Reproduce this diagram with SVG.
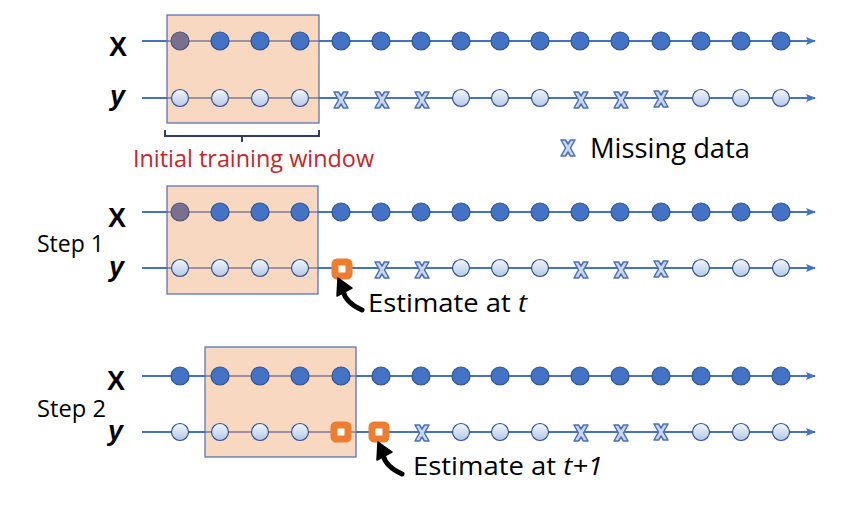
<svg xmlns="http://www.w3.org/2000/svg" width="848" height="516" viewBox="0 0 848 516">
<defs>
<linearGradient id="lg" x1="0" y1="0" x2="0" y2="1">
<stop offset="0" stop-color="#F4F7FC"/><stop offset="1" stop-color="#B4C7E7"/>
</linearGradient>
<marker id="ah" markerWidth="10" markerHeight="8" refX="9" refY="4" orient="auto" markerUnits="userSpaceOnUse">
<path d="M0,0 L10,4 L0,8 L2,4 Z" fill="#4472C4"/>
</marker>
<path id="mx" d="M-7,-8 L-2.4,-8 L0,-4 L2.4,-8 L7,-8 L2.5,0 L7,8 L2.4,8 L0,4 L-2.4,8 L-7,8 L-2.5,0 Z" fill="#C9D6EE" stroke="#4A6FB5" stroke-width="1.5" stroke-linejoin="round"/>
<g id="arr">
<path d="M0,0 Q3,12 19,19" fill="none" stroke="#000" stroke-width="5" stroke-linecap="round"/>
<path d="M-5,-13 L-6,5 L9,-3 Z" fill="#000" stroke="#000" stroke-width="1.5" stroke-linejoin="round"/>
</g>
</defs>
<style>
.ln{stroke:#4472C4;stroke-width:2;fill:none}
.xd{fill:#4472C4;stroke:#2F528F;stroke-width:1.2}
.xg{fill:#78708E;stroke:#4F5577;stroke-width:1.2}
.yd{fill:url(#lg);stroke:#2F528F;stroke-width:1.2}
.win{fill:#F4B183;fill-opacity:0.5;stroke:#4A6FB5;stroke-width:1.2}
.est{fill:#fff;stroke:#ED7D31;stroke-width:7;stroke-linejoin:round}
.lb{font-family:"Liberation Sans",Arial,sans-serif;font-weight:bold;font-size:27px;fill:#000}
.tx{font-family:"Open Sans","Liberation Sans",sans-serif;fill:#000}
</style>

<g id="connectors">
<line class="ln" x1="142" y1="41" x2="815" y2="41" marker-end="url(#ah)"/>
<line class="ln" x1="142" y1="98" x2="815" y2="98" marker-end="url(#ah)"/>
<line class="ln" x1="142" y1="212" x2="815" y2="212" marker-end="url(#ah)"/>
<line class="ln" x1="142" y1="268" x2="815" y2="268" marker-end="url(#ah)"/>
<line class="ln" x1="142" y1="376" x2="815" y2="376" marker-end="url(#ah)"/>
<line class="ln" x1="142" y1="432" x2="815" y2="432" marker-end="url(#ah)"/>
</g>

<g id="panel0">
<rect class="win" x="167" y="15" width="152" height="108"/>
<circle class="xg" cx="180" cy="41" r="9"/>
<text class="lb" x="109" y="56">X</text>
<text class="lb" x="110" y="105" font-style="italic">y</text>
<g id="p0x">
<circle class="xd" cx="220" cy="41" r="9"/><circle class="xd" cx="260" cy="41" r="9"/><circle class="xd" cx="300" cy="41" r="9"/>
<circle class="xd" cx="341" cy="41" r="9"/><circle class="xd" cx="381" cy="41" r="9"/><circle class="xd" cx="421" cy="41" r="9"/>
<circle class="xd" cx="461" cy="41" r="9"/><circle class="xd" cx="500" cy="41" r="9"/><circle class="xd" cx="540" cy="41" r="9"/>
<circle class="xd" cx="580" cy="41" r="9"/><circle class="xd" cx="620" cy="41" r="9"/><circle class="xd" cx="661" cy="41" r="9"/>
<circle class="xd" cx="701" cy="41" r="9"/><circle class="xd" cx="741" cy="41" r="9"/><circle class="xd" cx="781" cy="41" r="9"/>
</g>
<g id="p0y">
<circle class="yd" cx="180" cy="98" r="8.5"/><circle class="yd" cx="220" cy="98" r="8.5"/><circle class="yd" cx="260" cy="98" r="8.5"/><circle class="yd" cx="300" cy="98" r="8.5"/>
<use href="#mx" x="341" y="100"/><use href="#mx" x="382" y="100"/><use href="#mx" x="422" y="100"/>
<circle class="yd" cx="461" cy="98" r="8.5"/><circle class="yd" cx="500" cy="98" r="8.5"/><circle class="yd" cx="540" cy="98" r="8.5"/>
<use href="#mx" x="581" y="100"/><use href="#mx" x="621" y="100"/><use href="#mx" x="661" y="99"/>
<circle class="yd" cx="701" cy="98" r="8.5"/><circle class="yd" cx="741" cy="98" r="8.5"/><circle class="yd" cx="781" cy="98" r="8.5"/>
</g>
<path d="M165,130 L165,136 L319,136 L319,130 M242,136 L242,142" fill="none" stroke="#2F3F66" stroke-width="2"/>
<text class="tx" x="133" y="167" font-size="23" style="fill:#C0282C" textLength="241" lengthAdjust="spacingAndGlyphs">Initial training window</text>
</g>

<g id="legend">
<use href="#mx" x="568" y="148"/>
<text class="tx" x="590" y="158" font-size="27" textLength="160" lengthAdjust="spacingAndGlyphs">Missing data</text>
</g>

<g id="step1">
<rect class="win" x="167" y="186" width="151" height="108"/>
<circle class="xg" cx="180" cy="212" r="9"/>
<text class="lb" x="108" y="227">X</text>
<text class="lb" x="109" y="276" font-style="italic">y</text>
<text class="tx" x="37" y="252" font-size="23" textLength="67" lengthAdjust="spacingAndGlyphs">Step 1</text>
<circle class="xd" cx="220" cy="212" r="9"/><circle class="xd" cx="260" cy="212" r="9"/><circle class="xd" cx="300" cy="212" r="9"/>
<circle class="xd" cx="341" cy="212" r="9"/><circle class="xd" cx="381" cy="212" r="9"/><circle class="xd" cx="421" cy="212" r="9"/>
<circle class="xd" cx="461" cy="212" r="9"/><circle class="xd" cx="500" cy="212" r="9"/><circle class="xd" cx="540" cy="212" r="9"/>
<circle class="xd" cx="580" cy="212" r="9"/><circle class="xd" cx="620" cy="212" r="9"/><circle class="xd" cx="661" cy="212" r="9"/>
<circle class="xd" cx="701" cy="212" r="9"/><circle class="xd" cx="741" cy="212" r="9"/><circle class="xd" cx="781" cy="212" r="9"/>
<circle class="yd" cx="180" cy="268" r="8.5"/><circle class="yd" cx="220" cy="268" r="8.5"/><circle class="yd" cx="260" cy="268" r="8.5"/><circle class="yd" cx="300" cy="268" r="8.5"/>
<rect class="est" x="335" y="262" width="14" height="14" rx="2"/>
<use href="#mx" x="382" y="270"/><use href="#mx" x="422" y="270"/>
<circle class="yd" cx="461" cy="268" r="8.5"/><circle class="yd" cx="500" cy="268" r="8.5"/><circle class="yd" cx="540" cy="268" r="8.5"/>
<use href="#mx" x="581" y="270"/><use href="#mx" x="621" y="270"/><use href="#mx" x="661" y="269"/>
<circle class="yd" cx="701" cy="268" r="8.5"/><circle class="yd" cx="741" cy="268" r="8.5"/><circle class="yd" cx="781" cy="268" r="8.5"/>
<use href="#arr" x="343" y="291"/>
<text class="tx" x="368" y="312" font-size="26" textLength="159" lengthAdjust="spacingAndGlyphs">Estimate at <tspan font-style="italic">t</tspan></text>
</g>

<g id="step2">
<rect class="win" x="205" y="347" width="151" height="110"/>
<text class="lb" x="107" y="390">X</text>
<text class="lb" x="108" y="440" font-style="italic">y</text>
<text class="tx" x="37" y="417" font-size="23" textLength="69" lengthAdjust="spacingAndGlyphs">Step 2</text>
<circle class="xd" cx="180" cy="376" r="9"/><circle class="xd" cx="220" cy="376" r="9"/><circle class="xd" cx="260" cy="376" r="9"/><circle class="xd" cx="300" cy="376" r="9"/>
<circle class="xd" cx="341" cy="376" r="9"/><circle class="xd" cx="381" cy="376" r="9"/><circle class="xd" cx="421" cy="376" r="9"/>
<circle class="xd" cx="461" cy="376" r="9"/><circle class="xd" cx="500" cy="376" r="9"/><circle class="xd" cx="540" cy="376" r="9"/>
<circle class="xd" cx="580" cy="376" r="9"/><circle class="xd" cx="620" cy="376" r="9"/><circle class="xd" cx="661" cy="376" r="9"/>
<circle class="xd" cx="701" cy="376" r="9"/><circle class="xd" cx="741" cy="376" r="9"/><circle class="xd" cx="781" cy="376" r="9"/>
<circle class="yd" cx="180" cy="432" r="8.5"/><circle class="yd" cx="220" cy="432" r="8.5"/><circle class="yd" cx="260" cy="432" r="8.5"/><circle class="yd" cx="300" cy="432" r="8.5"/>
<rect class="est" x="334" y="425" width="14" height="14" rx="2"/>
<rect class="est" x="372" y="425" width="14" height="14" rx="2"/>
<use href="#mx" x="422" y="433"/>
<circle class="yd" cx="461" cy="432" r="8.5"/><circle class="yd" cx="500" cy="432" r="8.5"/><circle class="yd" cx="540" cy="432" r="8.5"/>
<use href="#mx" x="581" y="433"/><use href="#mx" x="621" y="433"/><use href="#mx" x="661" y="432"/>
<circle class="yd" cx="701" cy="432" r="8.5"/><circle class="yd" cx="741" cy="432" r="8.5"/><circle class="yd" cx="781" cy="432" r="8.5"/>
<use href="#arr" x="383" y="455"/>
<text class="tx" x="413" y="475" font-size="26" textLength="190" lengthAdjust="spacingAndGlyphs">Estimate at <tspan font-style="italic">t+1</tspan></text>
</g>
</svg>
